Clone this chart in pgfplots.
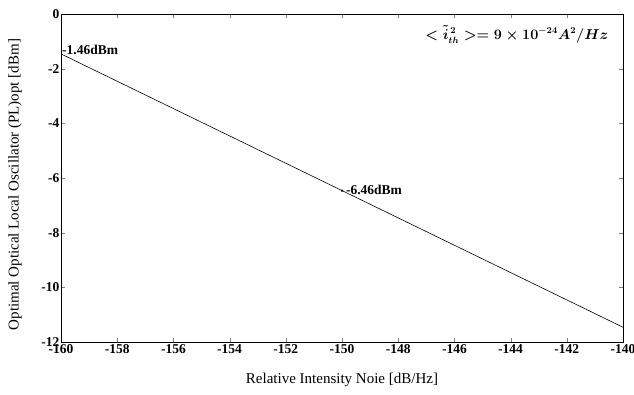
\documentclass[border=0pt]{standalone}
\usepackage{fontspec}
\setmainfont{Liberation Serif}
\usepackage{pgfplots}
\pgfplotsset{compat=1.18}
\begin{document}
\begin{tikzpicture}
\begin{axis}[
  at={(0,0)}, anchor=south west,
  scale only axis, width=562pt, height=328pt,
  xmin=-160, xmax=-140, ymin=-12, ymax=0,
  xtick={-160,-158,...,-140}, ytick={-12,-10,...,0},
  tick align=inside, major tick length=4pt,
  tick label style={font=\fontsize{13.5}{15}\selectfont\bfseries},
  xticklabel style={inner sep=1pt, yshift=-1pt},
  yticklabel style={inner sep=1.5pt},
  /pgf/number format/assume math mode=true,
  axis line style={line width=0.8pt},
  xlabel={Relative Intensity Noie [dB/Hz]},
  ylabel={Optimal Optical Local Oscillator (PL)opt [dBm]},
  label style={font=\fontsize{15}{17}\selectfont},
  xlabel style={anchor=center, at={(axis description cs:0.5,-0.116)}},
  ylabel style={anchor=center, rotate=0, at={(axis description cs:-0.082,0.48)}},
  clip=false,
]
\addplot[black, line width=0.6pt] coordinates {(-160,-1.46) (-140,-11.46)};
\addplot[black, only marks, mark=*, mark size=0.9pt] coordinates {(-150,-6.46)};
\node[anchor=south west, font=\fontsize{13.5}{15}\selectfont\bfseries, inner sep=1pt] at (axis cs:-160,-1.55) {-1.46dBm};
\node[anchor=west, font=\fontsize{13.5}{15}\selectfont\bfseries, inner sep=1pt] at (axis cs:-149.9,-6.42) {-6.46dBm};
\node[anchor=east, font=\fontsize{13.5}{15}\selectfont\bfseries\boldmath] at (axis cs:-140.4,-0.75) {$<\tilde{i}_{th}^{\,2}>=9\times10^{-24}A^2/Hz$};
\end{axis}
\pgfresetboundingbox
\path (-61pt,-52pt) rectangle (573pt,342pt);
\end{tikzpicture}
\end{document}
